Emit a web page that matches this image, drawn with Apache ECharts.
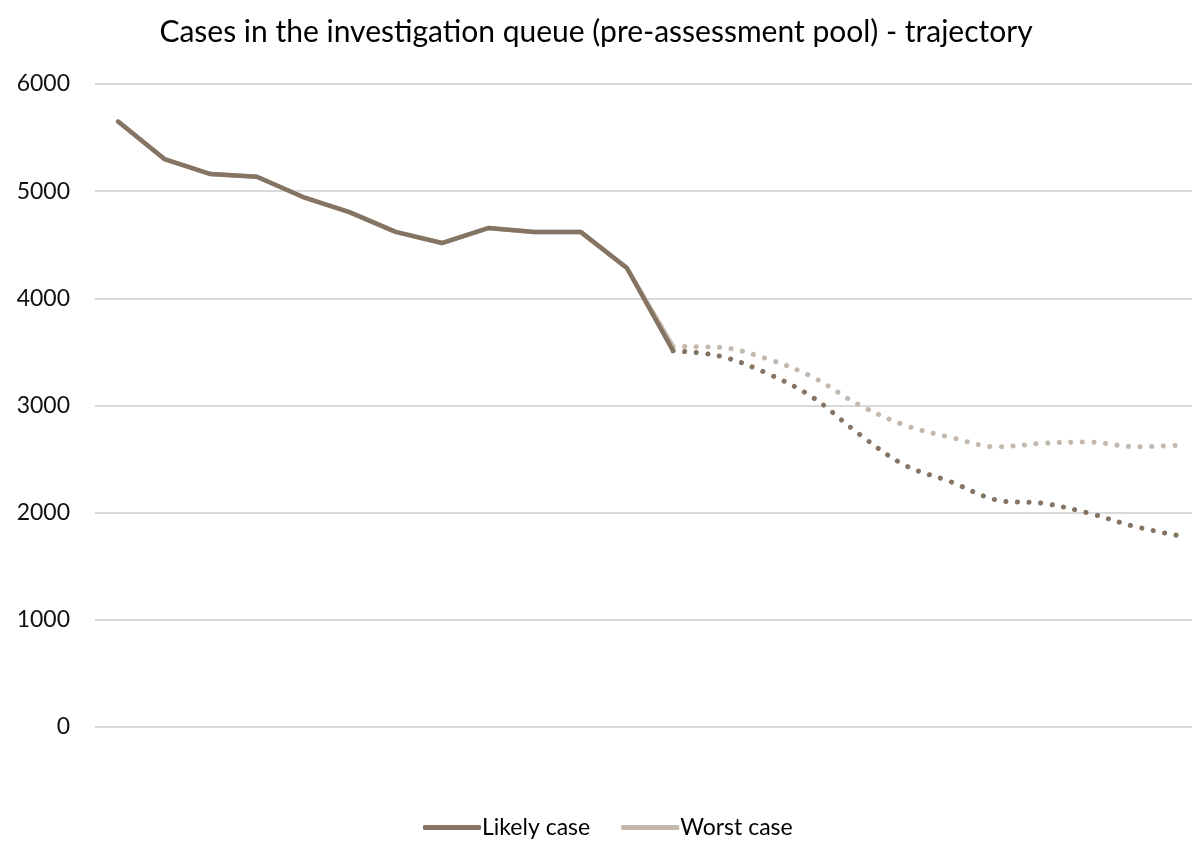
<!DOCTYPE html>
<html><head><meta charset="utf-8">
<script src="https://cdn.jsdelivr.net/npm/echarts@6/dist/echarts.min.js"></script>
<style>html,body{margin:0;padding:0;background:#fff}#c{width:1192px;height:842px}</style>
</head><body><div id="c"></div>
<script>
const categories = ['1','2','3','4','5','6','7','8','9','10','11','12','13','14','15','16','17','18','19','20','21','22','23','24'];
const likelyActual = [5650,5300,5160,5135,4945,4805,4620,4516,4656,4620,4620,4283,3510,null,null,null,null,null,null,null,null,null,null,null];
const worstActual  = [5650,5300,5160,5135,4945,4805,4620,4516,4656,4620,4620,4283,3550,null,null,null,null,null,null,null,null,null,null,null];
const likelyForecast = [null,null,null,null,null,null,null,null,null,null,null,null,3510,3462,3306,3082,2740,2445,2289,2118,2087,1994,1869,1780];
const worstForecast  = [null,null,null,null,null,null,null,null,null,null,null,null,3550,3543,3440,3269,3011,2818,2703,2615,2647,2659,2615,2631];
const yTicks = [0,1000,2000,3000,4000,5000,6000];

const likelyColor = '#857463';
const worstColor = '#c3b8ad';
const chart = echarts.init(document.getElementById('c'));
chart.setOption({
  animation: false,
  title: {
    text: 'Cases in the investigation queue (pre-assessment pool) - trajectory',
    left: 'center', top: 12,
    textStyle: {fontFamily: 'Lato', fontWeight: 'normal', fontSize: 30, color: '#000'}
  },
  legend: {
    bottom: -2, left: 418,
    data: ['Likely case', 'Worst case'],
    itemWidth: 58, itemHeight: 5, itemGap: 31,
    icon: 'roundRect',
    textStyle: {fontFamily: 'Lato', fontSize: 23, color: '#000', padding: [0,0,0,-4]}
  },
  grid: {left: 95, width: 1110, top: 84, bottom: 115, outerBoundsMode: 'none', containLabel: false},
  xAxis: {
    type: 'category', data: categories, boundaryGap: true,
    axisLine: {show: false}, axisTick: {show: false}, axisLabel: {show: false}
  },
  yAxis: {
    type: 'value', min: yTicks[0], max: yTicks[yTicks.length-1], interval: 1000,
    axisLine: {show: false}, axisTick: {show: false},
    axisLabel: {margin: 25, fontFamily: 'Lato', fontSize: 23, color: '#111', formatter: v => String(v)},
    splitLine: {lineStyle: {color: '#d9d9d9', width: 2}}
  },
  series: [
    {name: 'Worst case', type: 'line', data: worstActual, symbol: 'none', color: worstColor,
     lineStyle: {width: 4.5, color: worstColor, cap: 'round', join: 'round'}, z: 2},
    {name: 'Likely case', type: 'line', data: likelyActual, symbol: 'none', color: likelyColor,
     lineStyle: {width: 4.5, color: likelyColor, cap: 'round', join: 'round'}, z: 3},
    {name: 'Worst case', type: 'line', data: worstForecast, symbol: 'none', color: worstColor, smooth: 0.35,
     lineStyle: {width: 5, color: worstColor, type: [0.1, 11.5], cap: 'round'}, z: 2},
    {name: 'Likely case', type: 'line', data: likelyForecast, symbol: 'none', color: likelyColor, smooth: 0.35,
     lineStyle: {width: 5, color: likelyColor, type: [0.1, 11.5], cap: 'round'}, z: 3}
  ]
});
</script></body></html>
